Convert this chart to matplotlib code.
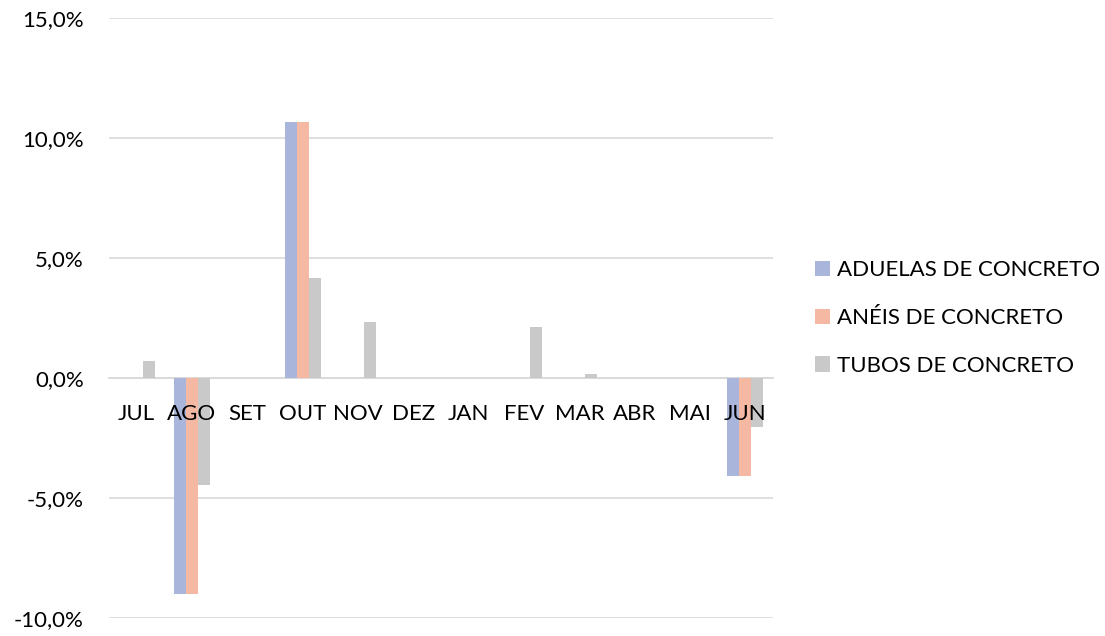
import numpy as np
import matplotlib.pyplot as plt
from matplotlib.ticker import FuncFormatter

plt.rcParams['font.family'] = ['Lato', 'DejaVu Sans']

# data (percent)
months = ["JUL", "AGO", "SET", "OUT", "NOV", "DEZ", "JAN", "FEV", "MAR", "ABR", "MAI", "JUN"]
aduelas = [0.0, -9.0, 0.0, 10.65, 0.0, 0.0, 0.0, 0.0, 0.0, 0.0, 0.0, -4.1]
aneis = [0.0, -9.0, 0.0, 10.65, 0.0, 0.0, 0.0, 0.0, 0.0, 0.0, 0.0, -4.1]
tubos = [0.7, -4.47, 0.0, 4.17, 2.33, 0.0, 0.0, 2.11, 0.17, 0.0, 0.0, -2.06]
series_names = ["ADUELAS DE CONCRETO", "ANÉIS DE CONCRETO", "TUBOS DE CONCRETO"]
colors = ["#A9B5DB", "#F4B8A3", "#C9C9C9"]

fig = plt.figure(figsize=(11.05, 6.36), dpi=100)
ax = fig.add_axes([0.0986, 0.0283, 0.6010, 0.9434])

x = np.arange(len(months))
w = 0.217
for i, (vals, name, c) in enumerate(zip([aduelas, aneis, tubos], series_names, colors)):
    ax.bar(x + (i - 1) * w, vals, width=w, color=c, label=name, zorder=2)

ax.set_xlim(-0.5, len(months) - 0.5)
ax.set_ylim(-10, 15)
ax.set_yticks(np.arange(-10, 15.1, 5))
ax.yaxis.set_major_formatter(FuncFormatter(lambda v, p: f"{v:.1f}%".replace(".", ",")))
ax.grid(axis='y', color='#D9D9D9', linewidth=1.2, zorder=0)

for s in ['top', 'right', 'left']:
    ax.spines[s].set_visible(False)
ax.spines['bottom'].set_position(('data', 0))
ax.spines['bottom'].set_color('#D9D9D9')
ax.spines['bottom'].set_linewidth(1.2)
ax.spines['bottom'].set_zorder(1)
ax.xaxis.set_zorder(3)

ax.set_xticks(x)
ax.set_xticklabels(months)
ax.tick_params(axis='x', length=0, pad=18.5, labelsize=16, labelcolor='#000000')
ax.tick_params(axis='y', length=0, pad=18, labelsize=16, labelcolor='#000000')

fig.legend(loc='center left', bbox_to_anchor=(0.7376, 0.5), frameon=False,
           fontsize=16, handlelength=0.68, handleheight=0.68, handletextpad=0.32,
           labelspacing=1.25, borderpad=0, borderaxespad=0)

plt.savefig("out.png", dpi=100)
